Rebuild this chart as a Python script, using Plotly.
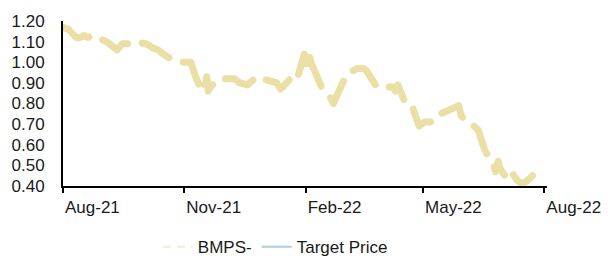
import plotly.graph_objects as go

dates = [
    "2021-08-01", "2021-08-05", "2021-08-08", "2021-08-11", "2021-08-14", "2021-08-17", "2021-08-20", "2021-08-23",
    "2021-09-03", "2021-09-07", "2021-09-11", "2021-09-15", "2021-09-19", "2021-09-24",
    "2021-10-03", "2021-10-08", "2021-10-12", "2021-10-16", "2021-10-21",
    "2021-10-30", "2021-11-06", "2021-11-09", "2021-11-14", "2021-11-16", "2021-11-18", "2021-11-19",
    "2021-11-22", "2021-11-25", "2021-11-28",
    "2021-12-09", "2021-12-13", "2021-12-19", "2021-12-23", "2021-12-26", "2021-12-30",
    "2022-01-10", "2022-01-13", "2022-01-18", "2022-01-24", "2022-01-26",
    "2022-01-29", "2022-01-31", "2022-02-02", "2022-02-04", "2022-02-05",
    "2022-02-10", "2022-02-13", "2022-02-16", "2022-02-19", "2022-02-22", "2022-02-24", "2022-02-27", "2022-03-04",
    "2022-03-12", "2022-03-17", "2022-03-19", "2022-03-22", "2022-03-25", "2022-03-27",
    "2022-04-08", "2022-04-10", "2022-04-12", "2022-04-14", "2022-04-17", "2022-04-22",
    "2022-04-28", "2022-05-02", "2022-05-06", "2022-05-11", "2022-05-14", "2022-05-18",
    "2022-05-28", "2022-05-30", "2022-06-03", "2022-06-07", "2022-06-12",
    "2022-06-17", "2022-06-20", "2022-06-23", "2022-06-25", "2022-06-27", "2022-06-28",
    "2022-07-04", "2022-07-08", "2022-07-11", "2022-07-15", "2022-07-18", "2022-07-23",
]
bmps = [
    1.17, 1.16, 1.14, 1.12, 1.12, 1.13, 1.12, 1.13,
    1.10, 1.08, 1.06, 1.09, 1.09, 1.10,
    1.09, 1.07, 1.06, 1.04, 1.02,
    1.00, 1.00, 0.94, 0.86, 0.87, 0.93, 0.86,
    0.89, 0.90, 0.92,
    0.92, 0.90, 0.89, 0.91, 0.93, 0.92,
    0.90, 0.87, 0.90, 0.945, 0.93,
    0.99, 1.04, 0.98, 1.03, 1.00,
    0.91, 0.88, 0.86, 0.84, 0.80, 0.83, 0.87, 0.94,
    0.97, 0.97, 0.96, 0.93, 0.89, 0.88,
    0.88, 0.86, 0.89, 0.86, 0.81, 0.80,
    0.69, 0.71, 0.71, 0.72, 0.75, 0.76,
    0.79, 0.74, 0.71, 0.70, 0.67,
    0.57, 0.54, 0.51, 0.47, 0.52, 0.49,
    0.43, 0.46, 0.43, 0.41, 0.42, 0.45,
]
tick_dates = ["2021-08-01", "2021-11-01", "2022-02-01", "2022-05-01", "2022-08-01"]
tick_labels = ["Aug-21", "Nov-21", "Feb-22", "May-22", "Aug-22"]
y_ticks = [0.4, 0.5, 0.6, 0.7, 0.8, 0.9, 1.0, 1.1, 1.2]
series_names = ["BMPS-", "Target Price"]

KHAKI = "#EAE0A6"
BLUE = "#A9CEDE"
FONT = "Liberation Sans, Arial, sans-serif"

fig = go.Figure()
fig.add_trace(go.Scatter(
    x=dates, y=bmps, mode="lines", showlegend=False,
    line=dict(color=KHAKI, width=7, dash="31px,15px"),
))
fig.add_trace(go.Scatter(
    x=[None], y=[None], mode="lines", name=series_names[0],
    line=dict(color="#F3EDD5", width=2, dash="8px,6px"),
))
fig.add_trace(go.Scatter(
    x=[None], y=[None], mode="lines", name=series_names[1],
    line=dict(color=BLUE, width=2),
))

fig.update_layout(
    width=608, height=256,
    margin=dict(l=63, r=61, t=21, b=70, autoexpand=False),
    paper_bgcolor="white", plot_bgcolor="white",
    font=dict(family=FONT, size=17, color="#1a1a1a"),
    showlegend=True,
    hovermode=False,
    legend=dict(
        orientation="h", x=0.196, xanchor="left", y=-0.262, yanchor="top",
        font=dict(size=17, color="#1a1a1a"),
        bgcolor="rgba(0,0,0,0)",
    ),
)
fig.update_xaxes(
    type="date", range=["2021-08-01", "2022-08-03"], automargin=False,
    tickvals=tick_dates, ticktext=tick_labels,
    ticks="outside", ticklen=5, tickwidth=2, tickcolor="black",
    ticklabelposition="outside right", ticklabelstandoff=5,
    showline=True, linecolor="black", linewidth=2,
    showgrid=False, zeroline=False,
    tickfont=dict(size=17, color="#1a1a1a"),
)
fig.update_yaxes(
    range=[0.4, 1.2], tickvals=y_ticks, tickformat=".2f", automargin=False,
    ticks="", showline=True, linecolor="black", linewidth=2,
    showgrid=False, zeroline=False, ticklabelstandoff=13,
    tickfont=dict(size=17, color="#1a1a1a"),
)

post = """
document.body.style.margin='0';
function rc(){document.querySelectorAll('.scatterlayer path.js-line').forEach(function(p){p.style.strokeLinecap='round';p.style.strokeLinejoin='round';});}
rc(); var gd=document.getElementById('{plot_id}'); if(gd&&gd.on){gd.on('plotly_afterplot',rc);}
"""
fig.write_html("out.html", post_script=post, config={"displayModeBar": False})
